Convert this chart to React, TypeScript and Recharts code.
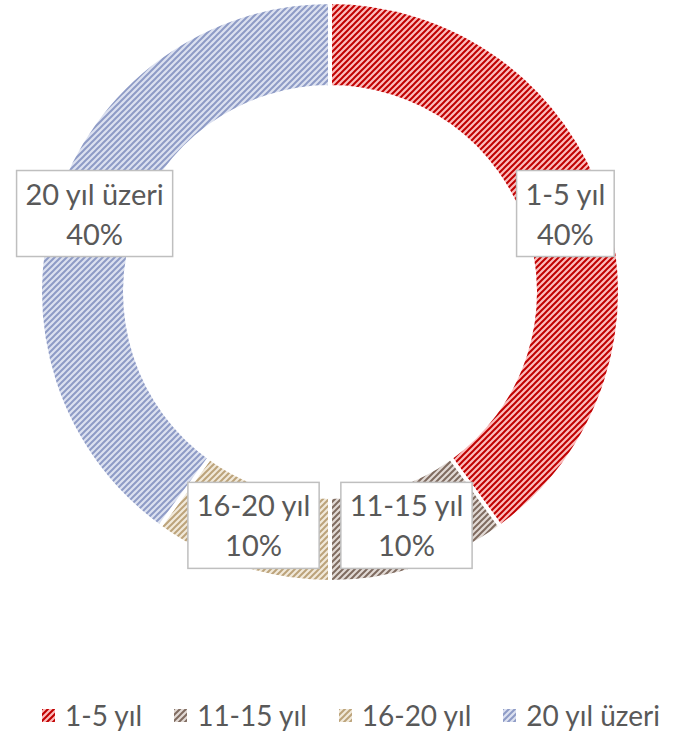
import React from 'react';
import { PieChart, Pie, Cell, Legend } from 'recharts';

const categories = ['1-5 yıl', '11-15 yıl', '16-20 yıl', '20 yıl üzeri'];
const values = [40, 10, 10, 40];
const percentLabels = ['40%', '10%', '10%', '40%'];
const legendLabels = ['1-5 yıl', '11-15 yıl', '16-20 yıl', '20 yıl üzeri'];

// pattern colours: [background, stripe]
const patternColors = [
  ['#FCBCBC', '#C00000'],
  ['#E2DAD5', '#7F6B60'],
  ['#F1E9DA', '#BCA37A'],
  ['#DCE1F0', '#8E9BC6'],
];

const FONT = 'Lato, "Open Sans", sans-serif';
const FONT_SIZE = 29;
const TEXT_COLOR = '#595959';

const data = categories.map((name, i) => ({ name, value: values[i], pct: percentLabels[i] }));

let ctx: CanvasRenderingContext2D | null = null;
const measure = (t: string) => {
  if (!ctx) ctx = document.createElement('canvas').getContext('2d');
  if (!ctx) return t.length * FONT_SIZE * 0.5;
  ctx.font = `${FONT_SIZE}px Lato`;
  return ctx.measureText(t).width;
};

const P = 6;
const PatternDef = ({ id, i }: { id: string; i: number }) => (
  <pattern id={id} patternUnits="userSpaceOnUse" width={P} height={P}>
    <rect width={P} height={P} fill={patternColors[i][0]} />
    <path
      d={`M-1,1 L1,-1 M0,${P} L${P},0 M${P - 1},${P + 1} L${P + 1},${P - 1}`}
      stroke={patternColors[i][1]}
      strokeWidth={2}
    />
  </pattern>
);

const RAD = Math.PI / 180;

const renderLabel = (props: any) => {
  const { cx, cy, midAngle, innerRadius, outerRadius, index } = props;
  const r = (innerRadius + outerRadius) / 2;
  const x = cx + r * Math.cos(-midAngle * RAD);
  const y = cy + r * Math.sin(-midAngle * RAD);
  const name = categories[index];
  const pct = percentLabels[index];
  const w = Math.max(measure(name), measure(pct)) + 17;
  const h = 86;
  return (
    <g>
      <rect x={x - w / 2} y={y - h / 2 - 2} width={w} height={h} fill="#fff" stroke="#BFBFBF" strokeWidth={1.5} />
      <text x={x} y={y - 11} textAnchor="middle" fill={TEXT_COLOR} fontFamily={FONT} fontSize={FONT_SIZE}>{name}</text>
      <text x={x} y={y + 29} textAnchor="middle" fill={TEXT_COLOR} fontFamily={FONT} fontSize={FONT_SIZE}>{pct}</text>
    </g>
  );
};

const LegendContent = () => (
  <div style={{ display: 'flex', alignItems: 'center', whiteSpace: 'nowrap', paddingLeft: 42, width: 684, boxSizing: 'border-box' }}>
    {legendLabels.map((l, i) => (
      <div key={l} style={{ display: 'flex', alignItems: 'center', marginRight: i < legendLabels.length - 1 ? 32 : 0 }}>
        <svg width={13} height={13} style={{ marginRight: 10 }}>
          <defs><PatternDef id={`lg${i}`} i={i} /></defs>
          <rect width={13} height={13} fill={`url(#lg${i})`} />
        </svg>
        <span style={{ fontFamily: FONT, fontSize: 28, color: TEXT_COLOR }}>{l}</span>
      </div>
    ))}
  </div>
);

export default function App() {
  return (
    <div style={{ position: 'absolute', left: 0, top: 0, width: 684, height: 740, background: '#fff', overflow: 'hidden' }}>
      <PieChart width={684} height={740} margin={{ top: 0, right: 0, bottom: 0, left: 0 }}>
        <defs>
          {patternColors.map((_, i) => <PatternDef key={i} id={`pat${i}`} i={i} />)}
        </defs>
        <Pie
          data={data}
          dataKey="value"
          nameKey="name"
          cx={330}
          cy={292}
          innerRadius={205}
          outerRadius={290}
          startAngle={90}
          endAngle={-270}
          stroke="#fff"
          strokeWidth={4}
          label={renderLabel}
          labelLine={false}
          isAnimationActive={false}
        >
          {data.map((d, i) => <Cell key={d.name} fill={`url(#pat${i})`} />)}
        </Pie>
        <Legend content={<LegendContent />} wrapperStyle={{ position: 'absolute', left: 0, top: 698, width: 684 }} />
      </PieChart>
    </div>
  );
}
